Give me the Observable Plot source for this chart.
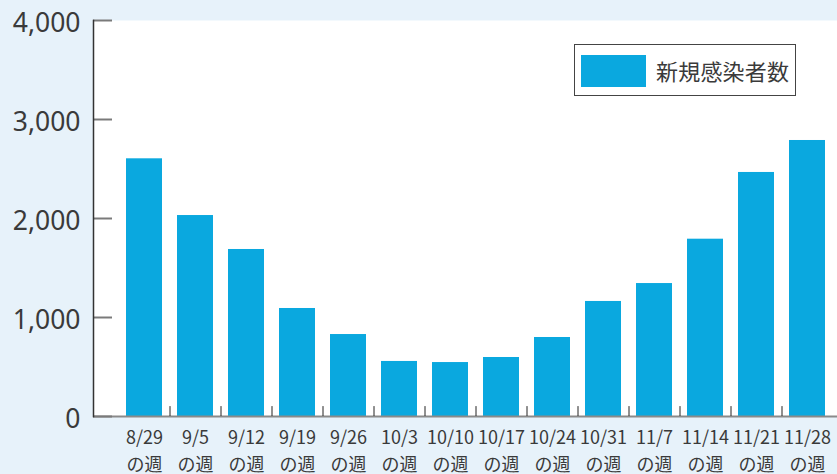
<!DOCTYPE html>
<html>
<head>
<meta charset="utf-8">
<script src="https://cdn.jsdelivr.net/npm/d3@7"></script>
<script src="https://cdn.jsdelivr.net/npm/@observablehq/plot@0.6"></script>
<style>
  html, body { margin: 0; padding: 0; background: #e7f2fa; }
  #wrap { position: relative; width: 837px; height: 474px; overflow: hidden; }
  #legend {
    position: absolute; left: 574px; top: 44px; width: 220px; height: 50px;
    border: 1.5px solid #444; background: #fff; box-sizing: content-box;
  }
  #legend .sw { position: absolute; left: 6px; top: 10px; width: 65px; height: 32px; background: #0aa8df; }
  #legend .lb { position: absolute; left: 81px; top: 10px; font: 22px "Noto Sans CJK JP", sans-serif; color: #3a3a3a; line-height: 30px; letter-spacing: 0.2px; }
</style>
</head>
<body>
<div id="wrap">
  <div id="chart"></div>
  <div id="legend"><div class="sw"></div><div class="lb">新規感染者数</div></div>
</div>
<script>
const weeks = ["8/29","9/5","9/12","9/19","9/26","10/3","10/10","10/17","10/24","10/31","11/7","11/14","11/21","11/28"];
const cases = [2603, 2030, 1687, 1091, 828, 556, 545, 596, 798, 1162, 1343, 1791, 2465, 2788];
const yTicks = [0, 1000, 2000, 3000, 4000];
const weekSuffix = "の週";
const seriesName = "新規感染者数";

const data = weeks.map((w, i) => ({week: w, value: cases[i]}));

const chart = Plot.plot({
  width: 837,
  height: 474,
  marginLeft: 93,
  marginRight: 0,
  marginTop: 20,
  marginBottom: 58,
  style: {background: "transparent", overflow: "visible"},
  x: {type: "band", domain: weeks, range: [125, 826], paddingInner: 0.296, paddingOuter: 0, axis: null},
  y: {domain: [0, 4000], axis: null},
  marks: [
    Plot.frame({fill: "#fff", stroke: null}),
    Plot.barY(data, {x: "week", y: "value", fill: "#0aa8df"}),
    Plot.ruleY([0], {stroke: "#8a8a8a", strokeWidth: 2}),
    Plot.axisY({ticks: yTicks, anchor: "left", tickSize: 19, dx: 19, stroke: "#7a7a7a", strokeWidth: 2,
      tickFormat: () => "", label: null}),
    Plot.axisY({ticks: yTicks, anchor: "left", tickSize: 0, tickPadding: 13, dy: 3, label: null,
      tickFormat: d => d3.format(",")(d), fontSize: 26.5, fontFamily: "'Noto Sans', sans-serif", fill: "#3a3a3a"}),
    Plot.frame({anchor: "left", stroke: "#333", strokeWidth: 1.5}),
    Plot.ruleX(weeks.slice(0, weeks.length - 1), {x: d => d, y1: 0, y2: 100, dx: 25.5, stroke: "#222", strokeWidth: 1}),
    Plot.text(weeks, {x: d => d, frameAnchor: "bottom", lineAnchor: "bottom", dy: 54, lineHeight: 1.46,
      text: d => d + "\n" + weekSuffix,
      fontSize: 18, fontFamily: "'Noto Sans CJK JP', sans-serif", fill: "#3a3a3a"})
  ]
});
document.getElementById("chart").appendChild(chart);
</script>
</body>
</html>
